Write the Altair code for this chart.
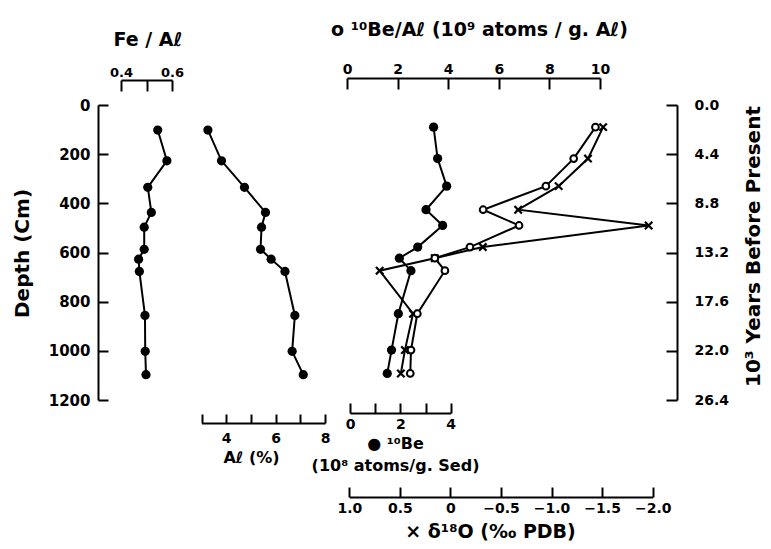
import altair as alt
import pandas as pd

# ---------------- data ----------------
# left block: Fe/Al ratio and Al (%) versus depth (cm)
depth_left = [102, 227, 335, 437, 497, 587, 627, 677, 856, 1002, 1097]
fe_al = [0.544, 0.580, 0.505, 0.519, 0.491, 0.491, 0.469, 0.472, 0.494, 0.495, 0.498]
al_pct = [3.26, 3.81, 4.74, 5.59, 5.43, 5.39, 5.82, 6.38, 6.78, 6.67, 7.12]

# right block: 10Be (1e8 atoms/g sed), 10Be/Al (1e9 atoms/g Al), d18O (per mil PDB)
depth_right = [90, 218, 330, 426, 490, 578, 623, 674, 849, 997, 1092]
be10_sed = [3.32, 3.48, 3.84, 3.02, 3.68, 2.69, 1.96, 2.42, 1.92, 1.65, 1.48]
be10_al = [9.82, 8.96, 7.86, 5.38, 6.80, 4.86, 3.47, 3.87, 2.78, 2.53, 2.50]
d18o = [-1.51, -1.36, -1.07, -0.67, -1.96, -0.32, 0.155, 0.70, 0.37, 0.45, 0.49]

# axis ticks
depth_ticks = [0, 200, 400, 600, 800, 1000, 1200]
years_ticks = [0.0, 4.4, 8.8, 13.2, 17.6, 22.0, 26.4]
cm_per_ky = 1200 / 26.4
fe_ticks = [0.4, 0.5, 0.6]
al_ticks = [3, 4, 5, 6, 7, 8]
beal_ticks = [0, 2, 4, 6, 8, 10]
besed_ticks = [0, 1, 2, 3, 4]
d18o_ticks = [1.0, 0.5, 0.0, -0.5, -1.0, -1.5, -2.0]

FONT = "DejaVu Sans"
W, H = 579, 295

y_scale = alt.Scale(domain=[0, 1200], reverse=True, nice=False, zero=False)


def ax(**kw):
    d = dict(grid=False, domainColor="black", domainWidth=2, tickColor="black",
             tickWidth=2, labelColor="black", labelFont=FONT, labelFontWeight="bold",
             labelFontSize=14, titleColor="black", titleFont=FONT,
             titleFontWeight="bold", labelFlush=False, labelOverlap=False,
             titleAlign="center", titleBaseline="middle")
    d.update(kw)
    return alt.Axis(**d)


df_fe = pd.DataFrame({"depth": depth_left, "v": fe_al})
df_al = pd.DataFrame({"depth": depth_left, "v": al_pct})
df_sed = pd.DataFrame({"depth": depth_right, "v": be10_sed})
df_beal = pd.DataFrame({"depth": depth_right, "v": be10_al})
df_o = pd.DataFrame({"depth": depth_right, "v": d18o})

filled_pt = alt.OverlayMarkDef(filled=True, color="black", size=85)
open_pt = alt.OverlayMarkDef(shape="circle", filled=True, fill="white",
                             stroke="black", strokeWidth=2, size=45)
x_pt = alt.OverlayMarkDef(shape="M-1,-1L1,1M-1,1L1,-1", filled=False,
                          stroke="black", strokeWidth=2.2, size=55)

no_y = alt.Y("depth:Q", scale=y_scale, axis=None)

fe_layer = alt.Chart(df_fe).mark_line(color="black", strokeWidth=2, point=filled_pt).encode(
    x=alt.X("v:Q", scale=alt.Scale(domain=[0.4, 0.6], range=[23, 74], nice=False, zero=False),
            axis=ax(orient="bottom", offset=-(H + 25), values=fe_ticks, tickSize=11,
                    labelPadding=-15, labelBaseline="alphabetic", labelFontSize=13,
                    labelExpr="abs(datum.value - 0.5) < 0.001 ? '' : format(datum.value, '.1f')",
                    title="Fe / Aℓ", titleFontSize=19, titleX=49.5, titleY=-41)),
    y=alt.Y("depth:Q", scale=y_scale,
            axis=ax(orient="right", offset=-W, values=depth_ticks, tickSize=10,
                    labelPadding=-18, labelAlign="right", labelBaseline="middle",
                    labelFontSize=15, labelExpr="format(datum.value, 'd')",
                    title="Depth (Cm)", titleFontSize=20,
                    titleAngle=270, titleX=-76, titleY=148)),
    order="depth:Q",
)

al_layer = alt.Chart(df_al).mark_line(color="black", strokeWidth=2, point=filled_pt).encode(
    x=alt.X("v:Q", scale=alt.Scale(domain=[3, 8], range=[103.5, 227], nice=False, zero=False),
            axis=ax(orient="top", offset=-318, values=al_ticks, tickSize=9,
                    labelPadding=-17, labelBaseline="top", labelFontSize=14,
                    labelExpr="datum.value % 2 == 0 ? datum.label : ''",
                    title="Aℓ (%)", titleFontSize=16, titleX=153, titleY=34)),
    y=no_y,
    order="depth:Q",
)

sed_layer = alt.Chart(df_sed).mark_line(color="black", strokeWidth=2, point=filled_pt).encode(
    x=alt.X("v:Q", scale=alt.Scale(domain=[0, 4], range=[252, 352.7], nice=False, zero=False),
            axis=ax(orient="top", offset=-308, values=besed_ticks, tickSize=10,
                    labelPadding=-14, labelBaseline="top", labelFontSize=14,
                    labelExpr="datum.value % 2 == 0 ? datum.label : ''",
                    title=["● ¹⁰Be", "(10⁸ atoms/g. Sed)"], titleFontSize=16,
                    titleLineHeight=22, titleBaseline="top", titleX=297, titleY=22)),
    y=no_y,
    order="depth:Q",
)

o_layer = alt.Chart(df_o).mark_line(color="black", strokeWidth=2, point=x_pt).encode(
    x=alt.X("v:Q", scale=alt.Scale(domain=[1.0, -2.0], range=[251.3, 554.7], nice=False, zero=False),
            axis=ax(orient="top", offset=-392, values=d18o_ticks, tickSize=10,
                    labelPadding=-14, labelBaseline="top", labelFontSize=14,
                    labelExpr="datum.value == 0 ? '0' : format(datum.value, '.1f')",
                    title="× δ¹⁸O (‰ PDB)", titleFontSize=19, titleX=392, titleY=34)),
    y=no_y,
    order="depth:Q",
)

beal_layer = alt.Chart(df_beal).mark_line(color="black", strokeWidth=2, point=open_pt).encode(
    x=alt.X("v:Q", scale=alt.Scale(domain=[0, 10], range=[249, 502], nice=False, zero=False),
            axis=ax(orient="bottom", offset=-(H + 27), values=beal_ticks, tickSize=11,
                    labelPadding=-16, labelBaseline="alphabetic", labelFontSize=14,
                    title="o ¹⁰Be/Aℓ (10⁹ atoms / g. Aℓ)", titleFontSize=19,
                    titleX=381, titleY=-49)),
    y=alt.Y("depth:Q", scale=y_scale,
            axis=ax(orient="left", offset=-W, values=[t * cm_per_ky for t in years_ticks],
                    tickSize=11, labelPadding=-28, labelAlign="left", labelBaseline="middle",
                    labelFontSize=14,
                    labelExpr="format(datum.value * 26.4 / 1200, '.1f')",
                    title="10³ Years Before Present", titleFontSize=20, titleAngle=270,
                    titleX=76, titleY=141)),
    order="depth:Q",
)

chart = (
    alt.layer(fe_layer, al_layer, sed_layer, o_layer, beal_layer)
    .resolve_scale(x="independent", y="shared")
    .resolve_axis(x="independent", y="independent")
    .properties(width=W, height=H,
                autosize=alt.AutoSizeParams(type="none"),
                padding={"left": 90, "top": 97, "right": 86, "bottom": 141},
                background="white")
    .configure_view(stroke=None)
)

chart.save("out.html", embed_options={"renderer": "svg", "actions": False})
